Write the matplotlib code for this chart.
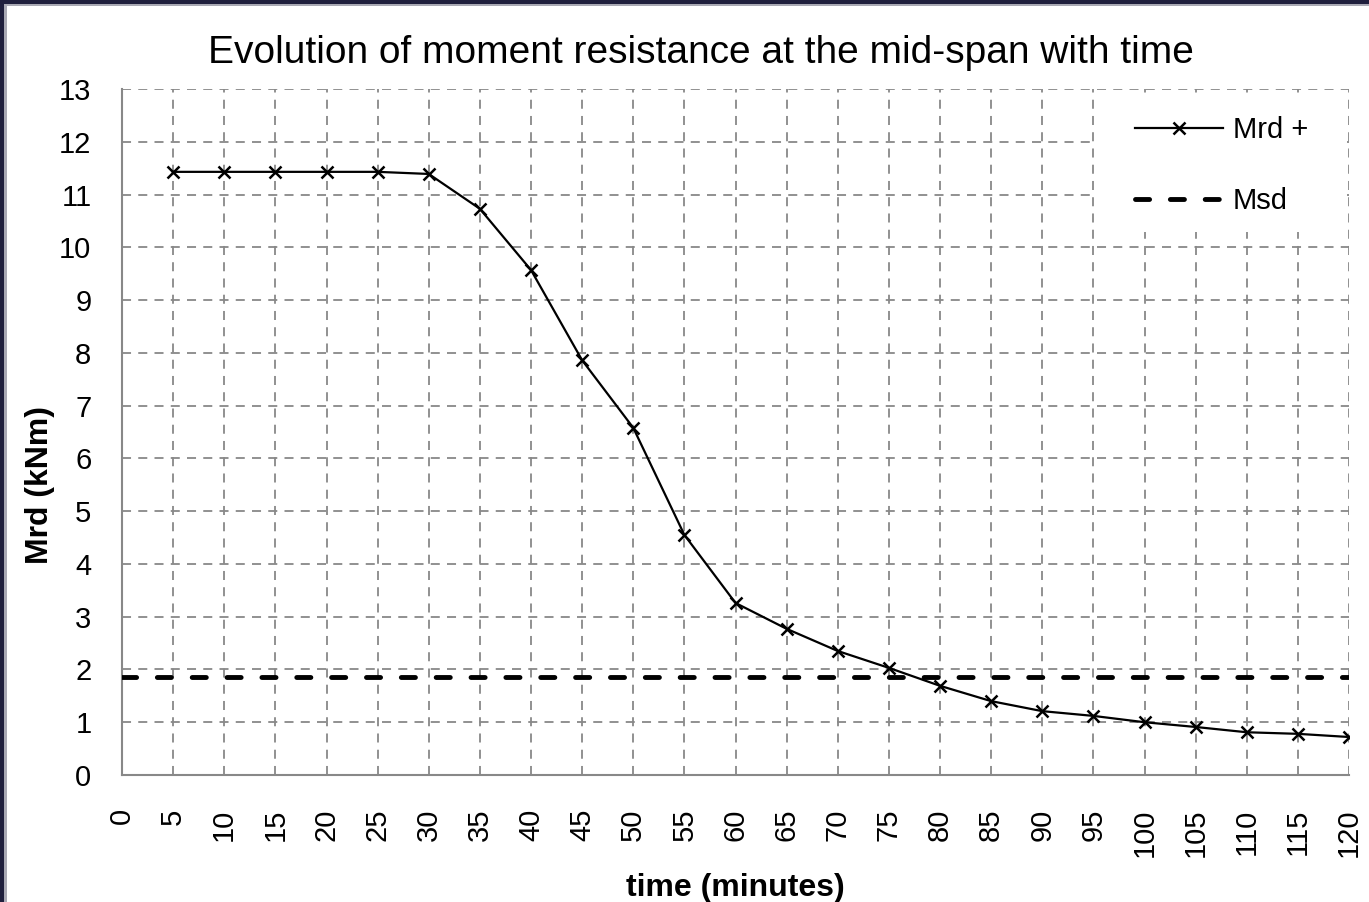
import matplotlib
matplotlib.use("Agg")
import matplotlib.pyplot as plt
from matplotlib.patches import Rectangle

# data
TIME = [5, 10, 15, 20, 25, 30, 35, 40, 45, 50, 55, 60,
        65, 70, 75, 80, 85, 90, 95, 100, 105, 110, 115, 120]
MRD = [11.43, 11.43, 11.43, 11.43, 11.43, 11.39, 10.73, 9.57, 7.86, 6.58,
       4.55, 3.26, 2.77, 2.35, 2.03, 1.69, 1.40, 1.21, 1.12, 1.00,
       0.91, 0.81, 0.78, 0.72]
MSD_X = [0, 120]
MSD_Y = [1.85, 1.85]
X_TICKS = list(range(0, 125, 5))
Y_TICKS = list(range(0, 14))

W, H = 1369, 902
GRID = "#888888"

plt.rcParams["font.family"] = ["Liberation Sans", "DejaVu Sans"]

fig = plt.figure(figsize=(W / 100, H / 100), dpi=100, facecolor="white")
ax = fig.add_axes([122 / W, 1 - 775 / H, 1227 / W, 686 / H])
ax.set_axisbelow(True)

ax.plot(TIME, MRD, color="black", lw=1.6, marker="x", ms=9, mew=1.8,
        label="Mrd +", zorder=3)
ax.plot(MSD_X, MSD_Y, color="black", lw=3.5, dashes=(2.9, 4.27),
        dash_capstyle="round", label="Msd", zorder=3)

ax.set_xlim(0, 120)
ax.set_ylim(0, 13)
ax.set_xticks(X_TICKS)
ax.set_yticks(Y_TICKS)
ax.tick_params(axis="both", length=0, labelsize=21)
ax.tick_params(axis="y", pad=22)
ax.tick_params(axis="x", labelrotation=90, pad=24)
ax.grid(True, color=GRID, lw=1.3, ls=(0, (5, 4)))

for s in ("top", "right"):
    ax.spines[s].set_visible(False)
for s in ("left", "bottom"):
    ax.spines[s].set_color(GRID)
    ax.spines[s].set_linewidth(1.5)

fig.text(701 / W, 1 - 63 / H,
         "Evolution of moment resistance at the mid-span with time",
         fontsize=28, ha="center", va="baseline")
fig.text(735 / W, 1 - 888 / H, "time (minutes)", fontsize=23,
         fontweight="bold", ha="center", va="center")
fig.text(40 / W, 1 - 485 / H, "Mrd (kNm)", fontsize=23, fontweight="bold",
         rotation=90, ha="center", va="center")

# white area behind the legend, grid on its edges stays visible
ax.add_patch(Rectangle((0.7945, 0.7915), 0.204, 0.2025, transform=ax.transAxes,
                       facecolor="white", edgecolor="none", zorder=1))
ax.legend(loc="upper left", bbox_to_anchor=(0.8256, 0.960), fontsize=21,
          frameon=False, borderpad=0, borderaxespad=0, handlelength=3.0,
          handletextpad=0.35, labelspacing=1.47)

# dark frame on the top and left edges
fig.patches.append(Rectangle((0, 0), 7 / W, 1, transform=fig.transFigure,
                             facecolor="#a9a9b4", edgecolor="none"))
fig.patches.append(Rectangle((0, 1 - 6 / H), 1, 6 / H, transform=fig.transFigure,
                             facecolor="#a9a9b4", edgecolor="none"))
fig.patches.append(Rectangle((0, 0), 4 / W, 1, transform=fig.transFigure,
                             facecolor="#1f1f3d", edgecolor="none"))
fig.patches.append(Rectangle((0, 1 - 4 / H), 1, 4 / H, transform=fig.transFigure,
                             facecolor="#1f1f3d", edgecolor="none"))

fig.savefig("out.png", dpi=100, facecolor="white")
